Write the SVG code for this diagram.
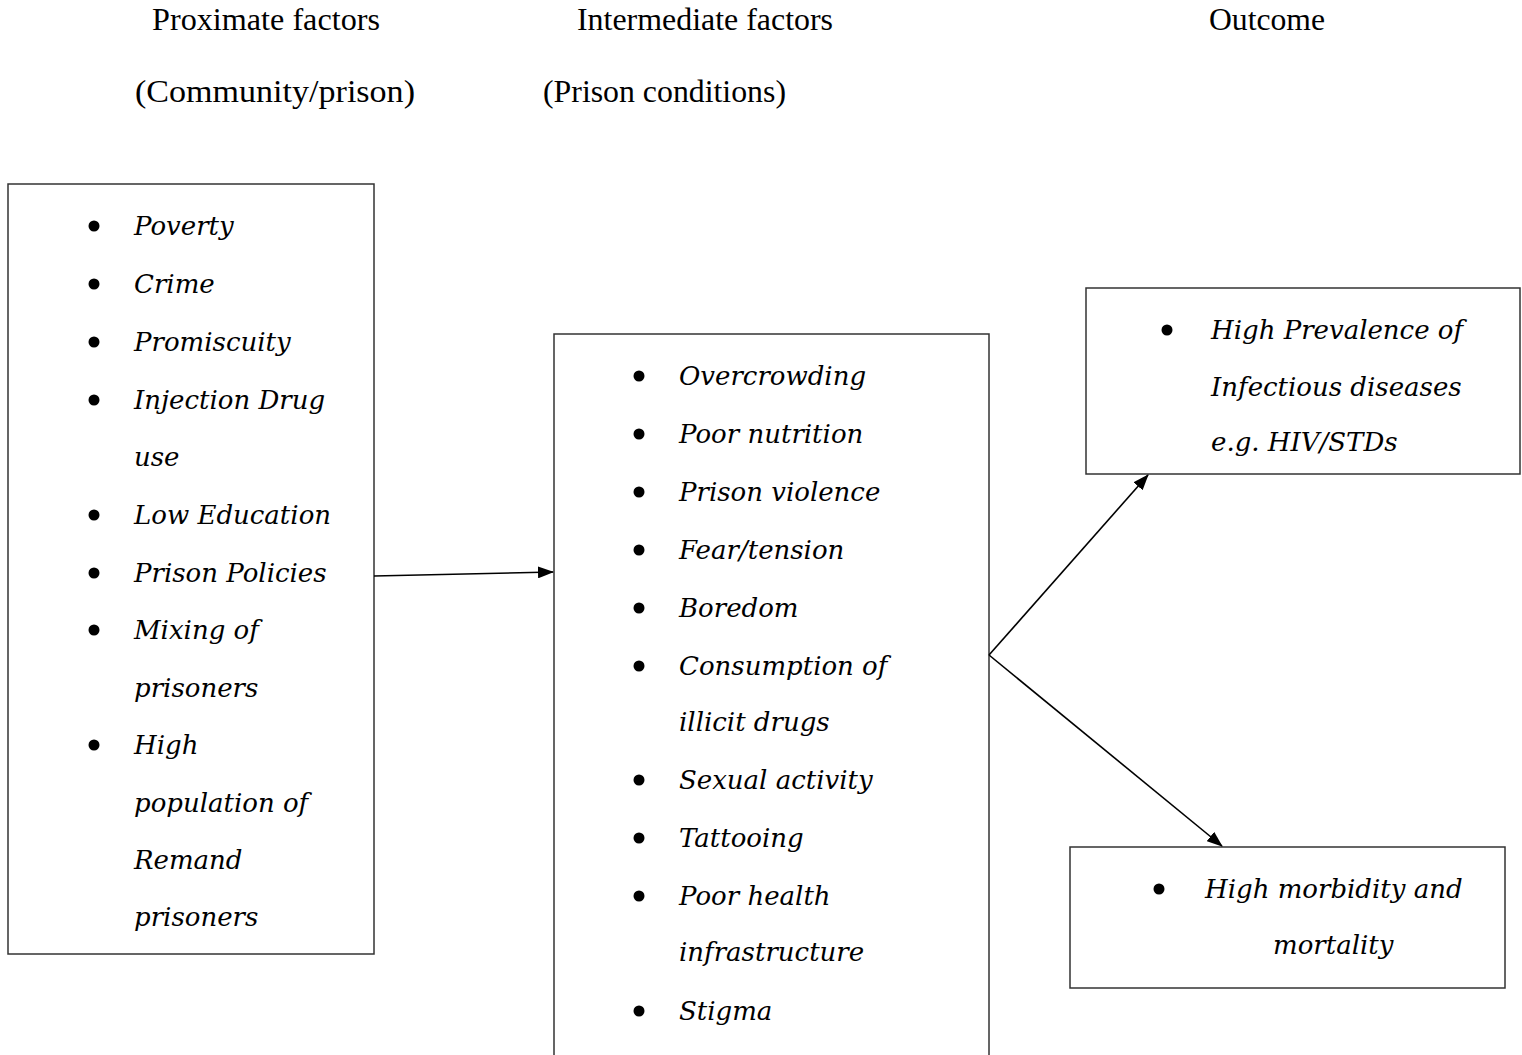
<svg xmlns="http://www.w3.org/2000/svg" width="1522" height="1055" viewBox="0 0 1522 1055">
<defs>
<style>
.hdr{font-family:"Liberation Serif","Times New Roman",serif;font-size:32.5px;fill:#000}
.it{font-family:"DejaVu Serif",serif;font-style:italic;font-size:26px;fill:#000}
.box{fill:#fff;stroke:#333;stroke-width:1.5}
.bul{fill:#000}
.conn{stroke:#000;stroke-width:1.6;fill:none}
</style>
<marker id="ah" markerWidth="16" markerHeight="12" refX="15" refY="6" orient="auto" markerUnits="userSpaceOnUse">
<path d="M0,0 L16,6 L0,12 Z" fill="#000"/>
</marker>
</defs>
<rect width="1522" height="1055" fill="#fff"/>
<g id="headers">
<text class="hdr" x="152" y="30" textLength="228" lengthAdjust="spacingAndGlyphs">Proximate factors</text>
<text class="hdr" x="135" y="102" textLength="280" lengthAdjust="spacingAndGlyphs">(Community/prison)</text>
<text class="hdr" x="577" y="30" textLength="256" lengthAdjust="spacingAndGlyphs">Intermediate factors</text>
<text class="hdr" x="543" y="102" textLength="243" lengthAdjust="spacingAndGlyphs">(Prison conditions)</text>
<text class="hdr" x="1209" y="30" textLength="116" lengthAdjust="spacingAndGlyphs">Outcome</text>
</g>
<g id="proximate">
<rect class="box" x="8" y="184" width="366" height="770"/>
<g class="bul">
<circle cx="94" cy="226" r="5.5"/><circle cx="94" cy="284" r="5.5"/><circle cx="94" cy="342" r="5.5"/><circle cx="94" cy="400" r="5.5"/><circle cx="94" cy="515" r="5.5"/><circle cx="94" cy="573" r="5.5"/><circle cx="94" cy="630" r="5.5"/><circle cx="94" cy="745" r="5.5"/>
</g>
<text class="it" x="134" y="235">Poverty</text>
<text class="it" x="134" y="293">Crime</text>
<text class="it" x="134" y="351">Promiscuity</text>
<text class="it" x="134" y="409">Injection Drug</text>
<text class="it" x="134" y="466">use</text>
<text class="it" x="134" y="524">Low Education</text>
<text class="it" x="134" y="582">Prison Policies</text>
<text class="it" x="134" y="639">Mixing of</text>
<text class="it" x="134" y="697">prisoners</text>
<text class="it" x="134" y="754">High</text>
<text class="it" x="134" y="812">population of</text>
<text class="it" x="134" y="869">Remand</text>
<text class="it" x="134" y="926">prisoners</text>
</g>
<g id="intermediate">
<rect class="box" x="554" y="334" width="435" height="730"/>
<g class="bul">
<circle cx="639" cy="376" r="5.5"/><circle cx="639" cy="434" r="5.5"/><circle cx="639" cy="492" r="5.5"/><circle cx="639" cy="550" r="5.5"/><circle cx="639" cy="608" r="5.5"/><circle cx="639" cy="666" r="5.5"/><circle cx="639" cy="780" r="5.5"/><circle cx="639" cy="838" r="5.5"/><circle cx="639" cy="896" r="5.5"/><circle cx="639" cy="1011" r="5.5"/>
</g>
<text class="it" x="679" y="385">Overcrowding</text>
<text class="it" x="679" y="443">Poor nutrition</text>
<text class="it" x="679" y="501">Prison violence</text>
<text class="it" x="679" y="559">Fear/tension</text>
<text class="it" x="679" y="617">Boredom</text>
<text class="it" x="679" y="675">Consumption of</text>
<text class="it" x="679" y="731">illicit drugs</text>
<text class="it" x="679" y="789">Sexual activity</text>
<text class="it" x="679" y="847">Tattooing</text>
<text class="it" x="679" y="905">Poor health</text>
<text class="it" x="679" y="961">infrastructure</text>
<text class="it" x="679" y="1020">Stigma</text>
</g>
<g id="outcome-infectious">
<rect class="box" x="1086" y="288" width="434" height="186"/>
<circle class="bul" cx="1167" cy="330" r="5.5"/>
<text class="it" x="1211" y="339">High Prevalence of</text>
<text class="it" x="1211" y="396">Infectious diseases</text>
<text class="it" x="1211" y="451">e.g. HIV/STDs</text>
</g>
<g id="outcome-morbidity">
<rect class="box" x="1070" y="847" width="435" height="141"/>
<circle class="bul" cx="1159" cy="889" r="5.5"/>
<text class="it" x="1205" y="898">High morbidity and</text>
<text class="it" x="1273" y="954">mortality</text>
</g>
<g id="connectors">
<line class="conn" x1="374" y1="576" x2="553" y2="572" marker-end="url(#ah)"/>
<line class="conn" x1="989" y1="655" x2="1148" y2="475" marker-end="url(#ah)"/>
<line class="conn" x1="989" y1="655" x2="1222" y2="846" marker-end="url(#ah)"/>
</g>
</svg>
